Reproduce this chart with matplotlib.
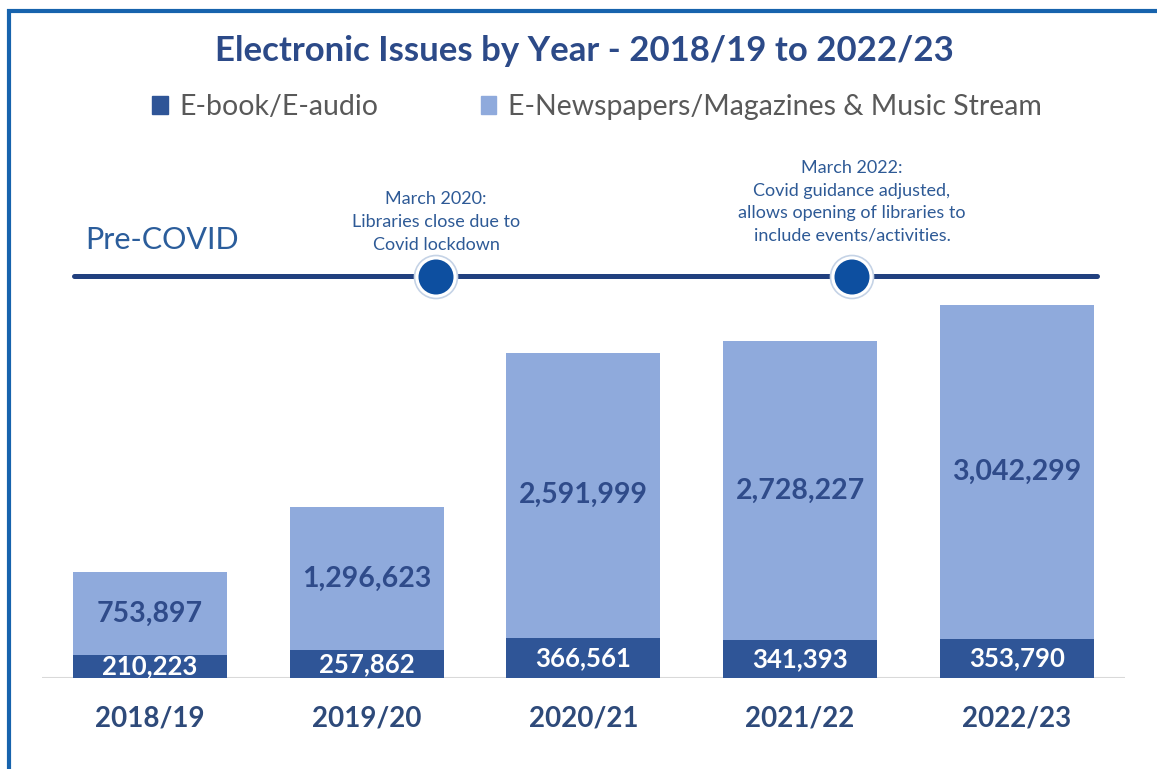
import matplotlib.pyplot as plt
from matplotlib.patches import Circle, Patch
import numpy as np

plt.rcParams["font.family"] = ["Lato", "DejaVu Sans"]

years = ["2018/19", "2019/20", "2020/21", "2021/22", "2022/23"]
ebook_audio = [210223, 257862, 366561, 341393, 353790]
enews_music = [753897, 1296623, 2591999, 2728227, 3042299]
series_names = ["E-book/E-audio", "E-Newspapers/Magazines & Music Stream"]

title = "Electronic Issues by Year - 2018/19 to 2022/23"
notes = [
    "March 2020:\nLibraries close due to\nCovid lockdown",
    "March 2022:\nCovid guidance adjusted,\nallows opening of libraries to\ninclude events/activities.",
]

DARK = "#2f5597"
LIGHT = "#8faadc"
NAVY = "#2c4a88"
FRAME = "#1763ad"

W, H = 1157, 769
fig = plt.figure(figsize=(W / 100, H / 100), dpi=100)
fig.patch.set_facecolor("white")

# pixel-space layer for the frame, title and timeline
deco = fig.add_axes([0, 0, 1, 1])
deco.set_xlim(0, W)
deco.set_ylim(H, 0)
deco.axis("off")

deco.plot([7, W], [11, 11], color=FRAME, lw=3, solid_capstyle="butt")
deco.plot([9, 9], [9, H], color=FRAME, lw=3, solid_capstyle="butt")

deco.text(584, 51, title, ha="center", va="center", fontsize=25,
          fontweight="bold", color=NAVY)

# timeline
deco.plot([74, 1097], [275.5, 275.5], color="#21407f", lw=3.6, solid_capstyle="round")
deco.text(85, 240, "Pre-COVID", ha="left", va="center", fontsize=22, color="#2b5d9b")
for cx, note, ty in zip([436, 852], notes, [222, 202]):
    deco.add_patch(Circle((cx, 277), 21.5, fc="white", ec="#c5d3e6", lw=1.2, zorder=3))
    deco.add_patch(Circle((cx, 277), 17.5, fc="#0d4fa0", ec="none", zorder=4))
    deco.text(cx, ty, note, ha="center", va="center", fontsize=13,
              color="#2e5a96", linespacing=1.5)

# stacked bars
ax = fig.add_axes([41.6 / W, (H - 678) / H, 1083.5 / W, 395.6 / H])
ax.set_xlim(-0.5, 4.5)
ax.set_ylim(0, 3.6e6)
ax.patch.set_alpha(0)
for s in ax.spines.values():
    s.set_visible(False)
ax.set_yticks([])

x = np.arange(len(years))
ax.bar(x, ebook_audio, width=0.71, color=DARK, zorder=2)
ax.bar(x, enews_music, width=0.71, bottom=ebook_audio, color=LIGHT, zorder=2)
ax.axhline(0, color="#d9d9d9", lw=1.5, zorder=1)

for i, (e, n) in enumerate(zip(ebook_audio, enews_music)):
    ax.text(i, e / 2, f"{e:,}", ha="center", va="center", fontsize=18.5,
            fontweight="bold", color="white", zorder=3)
    ax.text(i, e + n / 2, f"{n:,}", ha="center", va="center", fontsize=20.5,
            fontweight="bold", color="#2f4b8a", zorder=3)

ax.set_xticks(x, years)
ax.tick_params(axis="x", length=0, pad=20)
for lab in ax.get_xticklabels():
    lab.set_fontsize(20)
    lab.set_fontweight("bold")
    lab.set_color("#2e4a7a")

handles = [Patch(color=DARK), Patch(color=LIGHT)]
fig.legend(handles, series_names, loc="center", bbox_to_anchor=(597 / W, 1 - 107 / H),
           ncol=2, frameon=False, fontsize=20.5, labelcolor="#595959",
           handlelength=0.55, handleheight=0.55, handletextpad=0.4, columnspacing=3.6)

fig.savefig("out.png", dpi=100)
